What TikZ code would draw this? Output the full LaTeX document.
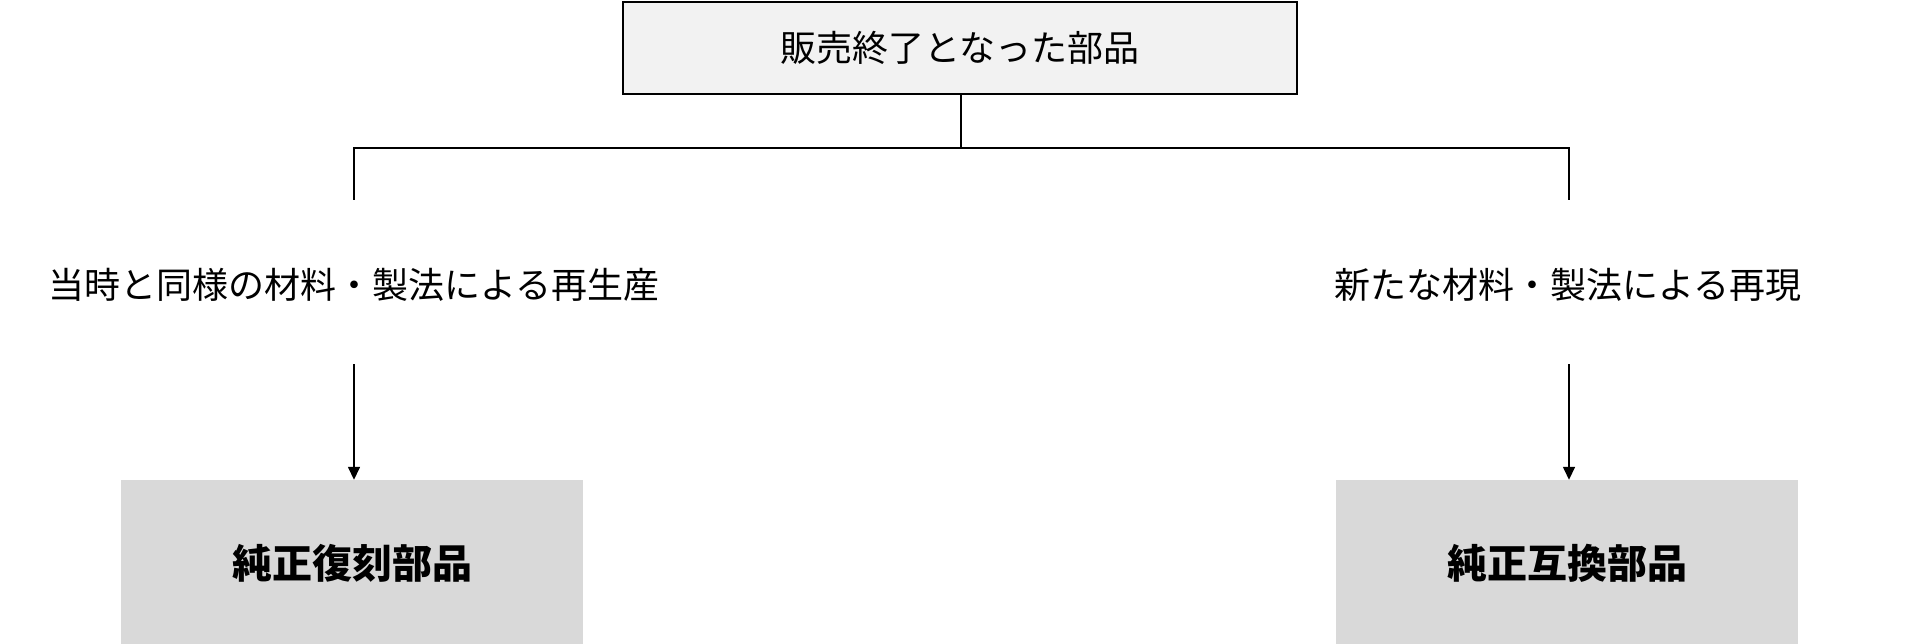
\documentclass[tikz,border=0pt]{standalone}
\usepackage{fontspec}
\newfontfamily\jpfont{Noto Sans CJK JP}
\usetikzlibrary{positioning,arrows.meta}
\definecolor{soldgray}{HTML}{F2F2F2}
\definecolor{partgray}{HTML}{D9D9D9}

\tikzset{
soldbox/.style={draw,line width=2.5pt,fill=soldgray,minimum width=674pt,minimum height=92pt,
  font=\jpfont\fontsize{36}{40}\selectfont},
way/.style={font=\jpfont\fontsize{36}{40}\selectfont,inner sep=0pt},
partbox/.style={fill=partgray,minimum width=462pt,minimum height=166pt,
  font=\jpfont\bfseries\fontsize{40}{44}\selectfont}}

\begin{document}
\begin{tikzpicture}
  [x=1pt,y=-1pt,
   fork/.style={line width=1.5pt},
   down/.style={line width=1.5pt,-{Triangle[width=12pt,length=13pt]}}]
   \useasboundingbox (0,0) rectangle (1920,644);
   % top
   \node[soldbox] (sold) at (960,48) {販売終了となった部品};
   \coordinate (mid) at (961,148);
   \coordinate (lfork) at (354,148);
   \coordinate (rfork) at (1569,148);
   \coordinate (lend) at (354,200);
   \coordinate (rend) at (1569,200);
   \draw[fork] (sold.south -| mid) -- (mid);
   \draw[fork] (lend) -- (lfork) -- (rfork) -- (rend);
   % two ways
   \node[way] (remake) at (354,285) {当時と同様の材料・製法による再生産};
   \node[way] (renew) at (1568,285) {新たな材料・製法による再現};
   % parts
   \node[partbox] (fukkoku) at (352,563) {純正復刻部品};
   \node[partbox] (gokan) at (1567,563) {純正互換部品};
   \coordinate (larr) at (354,364);
   \coordinate (rarr) at (1569,364);
   \draw[down] (larr) -- (larr |- fukkoku.north);
   \draw[down] (rarr) -- (rarr |- gokan.north);
\end{tikzpicture}
\end{document}
